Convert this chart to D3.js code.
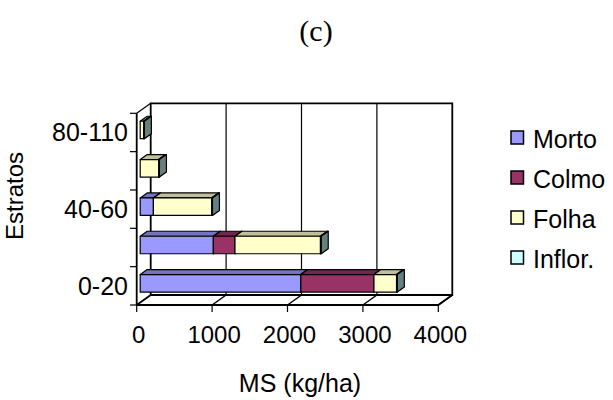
<!DOCTYPE html>
<html>
<head>
<meta charset="utf-8">
<script src="https://cdn.jsdelivr.net/npm/d3@7"></script>
<style>
  html, body { margin: 0; padding: 0; background: #fff; }
  svg text { font-family: "Liberation Sans", Arial, sans-serif; fill: #000; }
</style>
</head>
<body>
<svg id="chart" width="613" height="400"></svg>
<script>
// Dry matter (kg/ha) per vertical stratum, stacked by plant fraction
const categories = ["0-20", "20-40", "40-60", "60-80", "80-110"];
const shownLabels = ["0-20", "40-60", "80-110"];
const seriesNames = ["Morto", "Colmo", "Folha", "Inflor."];
const morto  = [2130, 970, 175, 0, 0];
const colmo  = [970, 287, 0, 0, 0];
const folha  = [300, 1134, 773, 245, 45];
const inflor = [10, 10, 10, 10, 10];
const seriesColors = ["#9999ff", "#993366", "#ffffcc", "#ccffff"];
const xTicks = [0, 1000, 2000, 3000, 4000];

const seriesValues = [morto, colmo, folha, inflor];

const svg = d3.select("#chart");

// 3D frame: front plane plus an oblique depth vector
const depth = { dx: 14, dy: -10 };
const x = d3.scaleLinear().domain([0, 4000]).range([136.7, 438.3]);
const y = d3.scaleBand().domain(categories.slice().reverse())
  .range([113.3, 305]).paddingInner(0.544).paddingOuter(0.272);
const yFront = 305, yTop = 113.3;
const P = (px, py, f) => [px + depth.dx * f, py + depth.dy * f];

const line = (pts, g, w) => g.append("polyline")
  .attr("points", pts.map(p => p.join(",")).join(" "))
  .attr("fill", "none").attr("stroke", "#000").attr("stroke-width", w || 1.5);

const frame = svg.append("g");
const x0 = x(0), x1 = x(4000);

// back wall gridlines and floor gridlines
xTicks.forEach((t, i) => {
  if (i > 0 && i < xTicks.length - 1) {
    line([P(x(t), yTop, 1), P(x(t), yFront, 1)], frame, 1.2);
  }
  if (i > 0) line([P(x(t), yFront, 0), P(x(t), yFront, 1)], frame, 1.5);
});
// back wall border
line([P(x0, yFront, 1), P(x0, yTop, 1), P(x1, yTop, 1), P(x1, yFront, 1), P(x0, yFront, 1)], frame, 1.8);
// left wall / floor edges
line([P(x0, yTop, 0), P(x0, yTop, 1)], frame, 1.2);
line([P(x0, yFront, 0), P(x0, yFront, 1)], frame, 1.8);
line([P(x0, yTop, 0), P(x0, yFront, 0), P(x1, yFront, 0), P(x1, yFront, 1)], frame, 1.8);

// axis ticks
const yBounds = d3.range(categories.length + 1).map(i => yTop + i * (yFront - yTop) / categories.length);
yBounds.forEach(v => line([[130, v], [x0, v]], frame, 1.2));
xTicks.forEach(t => line([[x(t), yFront], [x(t), yFront + 7]], frame, 1.2));

// shaded faces
const shade = (c, k) => { const r = d3.rgb(c); return d3.rgb(r.r * k, r.g * k, r.b * k).formatHex(); };

// bars: front face sits at depth 0.25, box depth 0.5
const fFront = 0.25, fBack = 0.75;
const bars = svg.append("g");
categories.forEach((cat, ci) => {
  const yt = y(cat), yb = y(cat) + y.bandwidth();
  let acc = 0;
  seriesValues.forEach((vals, si) => {
    const v = vals[ci];
    if (v <= 0) return;
    const xa = x(acc), xb = x(acc + v);
    acc += v;
    const col = seriesColors[si];
    const g = bars.append("g").attr("stroke", "#000").attr("stroke-width", 1.2).attr("stroke-linejoin", "round");
    const poly = (pts, fill) => g.append("polygon").attr("points", pts.map(p => p.join(",")).join(" ")).attr("fill", fill);
    poly([P(xa, yt, fFront), P(xb, yt, fFront), P(xb, yt, fBack), P(xa, yt, fBack)], shade(col, 0.75));
    poly([P(xb, yt, fFront), P(xb, yt, fBack), P(xb, yb, fBack), P(xb, yb, fFront)], shade(col, 0.5));
    poly([P(xa, yt, fFront), P(xb, yt, fFront), P(xb, yb, fFront), P(xa, yb, fFront)], col);
  });
});

// category labels
svg.append("g").selectAll("text").data(shownLabels).join("text")
  .attr("x", 128).attr("y", d => y(d) + y.bandwidth() / 2 + 9)
  .attr("text-anchor", "end").attr("font-size", 25).text(d => d);

// value tick labels
svg.append("g").selectAll("text").data(xTicks).join("text")
  .attr("x", d => x(d) + 2).attr("y", 343)
  .attr("text-anchor", "middle").attr("font-size", 24).text(d => d);

// titles
svg.append("text").attr("x", 316).attr("y", 41).attr("text-anchor", "middle")
  .style("font-family", "'Liberation Serif', 'Times New Roman', serif").attr("font-size", 30).text("(c)");
svg.append("text").attr("transform", "translate(23,196) rotate(-90)").attr("text-anchor", "middle")
  .attr("font-size", 24).text("Estratos");
svg.append("text").attr("x", 300).attr("y", 392).attr("text-anchor", "middle")
  .attr("font-size", 25).text("MS (kg/ha)");

// legend
const legend = svg.append("g");
const legBase = [148, 188, 228, 268];
seriesNames.forEach((name, i) => {
  legend.append("rect").attr("x", 511).attr("y", legBase[i] - 17).attr("width", 12.5).attr("height", 13)
    .attr("fill", seriesColors[i]).attr("stroke", "#000").attr("stroke-width", 1.5);
  legend.append("text").attr("x", 533).attr("y", legBase[i]).attr("font-size", 25).text(name);
});
</script>
</body>
</html>
